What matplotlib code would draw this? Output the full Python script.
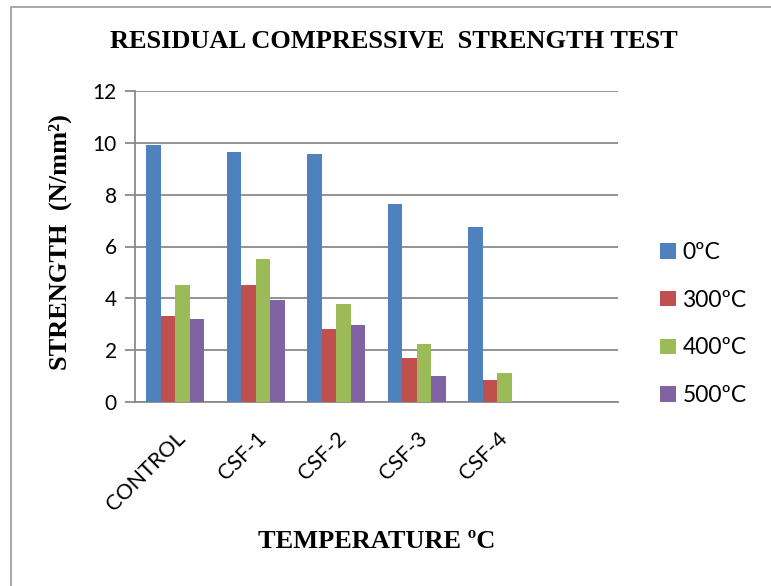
import numpy as np
import matplotlib
matplotlib.use('Agg')
import matplotlib.pyplot as plt
from matplotlib.patches import Rectangle
from matplotlib.transforms import ScaledTranslation

# data
categories = ['CONTROL', 'CSF-1', 'CSF-2', 'CSF-3', 'CSF-4']
series = ['0ºC', '300ºC', '400ºC', '500ºC']
s0 = [9.9, 9.65, 9.55, 7.65, 6.75]
s300 = [3.3, 4.5, 2.8, 1.7, 0.85]
s400 = [4.5, 5.5, 3.8, 2.25, 1.12]
s500 = [3.2, 3.95, 2.97, 1.02, np.nan]
colors = ['#4F81BD', '#C0504D', '#9BBB59', '#8064A2']

sans = 'Lato'
serif = 'Liberation Serif'

fig = plt.figure(figsize=(7.71, 5.86), dpi=100)
ax = fig.add_axes([135/771, 1-402/586, 483/771, 311/586])

# chart border (only top and left edges fall inside the picture)
fig.patches.append(Rectangle((11/771, -0.1), 1.2, 1.1 - 7/586, transform=fig.transFigure,
                             fill=False, edgecolor='#9a9a9a', linewidth=1.2))

x = np.arange(len(categories))
w = 0.18
vals = [s0, s300, s400, s500]
for i in range(4):
    ax.bar(x + (i - 1.5)*w, vals[i], w, color=colors[i], label=series[i], zorder=3)

ax.set_xlim(-0.5, len(categories) + 0.5)
ax.set_ylim(0, 12)
ax.set_yticks(np.arange(0, 13, 2))
ax.yaxis.grid(True, color='#8a8a8a', linewidth=1.3, zorder=0)
ax.set_xticks(x)
ax.set_xticklabels(categories, rotation=45, ha='right', rotation_mode='anchor',
                   fontsize=15.5, family=sans)
shift = ScaledTranslation(-6/100, 0, fig.dpi_scale_trans)
for t in ax.get_xticklabels():
    t.set_transform(t.get_transform() + shift)
for t in ax.get_yticklabels():
    t.set_fontsize(15)
    t.set_family(sans)
ax.tick_params(axis='x', length=0, pad=19)
ax.tick_params(axis='y', length=7, width=1.3, color='#8a8a8a', pad=6)
for s in ['top', 'right']:
    ax.spines[s].set_visible(False)
ax.spines['left'].set_color('#8a8a8a')
ax.spines['bottom'].set_color('#8a8a8a')
ax.spines['left'].set_linewidth(1.3)
ax.spines['bottom'].set_linewidth(1.3)

fig.text(394/771, 1-42/586, 'RESIDUAL COMPRESSIVE  STRENGTH TEST', ha='center', va='center',
         fontsize=19, fontweight='bold', family=serif)
fig.text(60/771, 1-242/586, 'STRENGTH  (N/mm²)', rotation=90, ha='center', va='center',
         fontsize=19, fontweight='bold', family=serif)
fig.text(377/771, 1-541/586, 'TEMPERATURE ºC', ha='center', va='center',
         fontsize=19, fontweight='bold', family=serif)

leg = fig.legend(loc='center left', bbox_to_anchor=(660/771, 1-324/586), frameon=False,
                 prop={'family': sans, 'size': 16.5}, labelspacing=1.17, handlelength=0.68,
                 handleheight=0.68, handletextpad=0.3, borderpad=0, borderaxespad=0)

fig.savefig('out.png', dpi=100)
